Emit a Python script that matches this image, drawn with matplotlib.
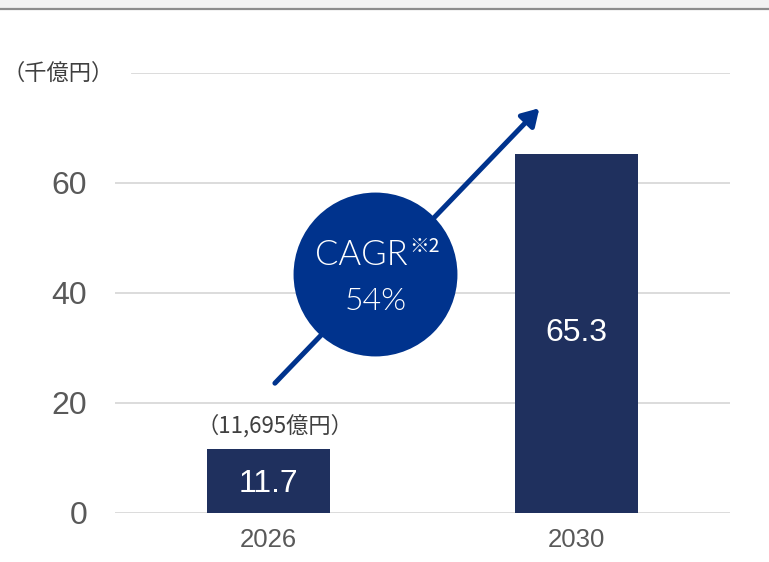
import matplotlib.pyplot as plt
from matplotlib.patches import Rectangle
from matplotlib.lines import Line2D

years = ["2026", "2030"]
values = [11.7, 65.3]
value_labels = ["11.7", "65.3"]
yticks = [0, 20, 40, 60]
note_2026 = "（11,695億円）"
unit_label = "（千億円）"
cagr_title = "CAGR"
cagr_note = "※2"
cagr_value = "54%"
arrow_start = (0.02, 23.6)
arrow_end = (0.88, 73.6)
circle_center = (0.347, 43.5)

bar_color = "#1F305E"
accent = "#00338D"
grid_color = "#D9D9D9"
text_gray = "#595959"
cjk = ["Noto Sans CJK JP", "DejaVu Sans"]

plt.rcParams["font.family"] = ["Liberation Sans", "Noto Sans CJK JP", "DejaVu Sans"]

fig = plt.figure(figsize=(7.69, 5.62), dpi=100)
ax = fig.add_axes([115 / 769, 49 / 562, 615 / 769, 440 / 562])

# top page strip
fig.patches.append(Rectangle((0, 1 - 8 / 562), 1, 8 / 562, transform=fig.transFigure,
                             facecolor="#F2F2F2", edgecolor="none", zorder=0))
fig.lines.append(Line2D([0, 1], [1 - 8.5 / 562] * 2, transform=fig.transFigure,
                        color="#8C8C8C", linewidth=1.6))

x = list(range(len(years)))
ax.set_xlim(-0.5, 1.5)
ax.set_ylim(0, 80)

for t in yticks:
    ax.axhline(t, color=grid_color, linewidth=1.3, zorder=0)
ax.axhline(80, xmin=17 / 615, color=grid_color, linewidth=1.3, zorder=0)

ax.bar(x, values, width=0.4, color=bar_color, zorder=2)
for xi, v, lab in zip(x, values, value_labels):
    ax.text(xi, v / 2 if v > 20 else v * 0.45, lab, ha="center", va="center",
            color="white", fontsize=23, zorder=3)

ax.text(x[0] + 0.02, 15.8, note_2026, ha="center", va="center", fontsize=16,
        color="#404040", family=cjk)

# growth arrow and CAGR badge
ax.annotate("", xy=arrow_end, xytext=arrow_start,
            arrowprops=dict(arrowstyle="-|>,head_length=1.0,head_width=0.6",
                            color=accent, linewidth=3.6, shrinkA=0, shrinkB=0),
            zorder=4)
ax.scatter([circle_center[0]], [circle_center[1]], s=118 ** 2, color=accent,
           zorder=5, linewidths=0)
ax.text(circle_center[0] - 0.045, circle_center[1] + 3.4, cagr_title, ha="center",
        va="center", color="white", fontsize=25, fontweight=300,
        family=["Lato", "DejaVu Sans"], zorder=6)
ax.text(circle_center[0] + 0.16, circle_center[1] + 5.0, cagr_note, ha="center",
        va="center", color="white", fontsize=14, family=cjk, zorder=6)
ax.text(circle_center[0], circle_center[1] - 5.0, cagr_value, ha="center",
        va="center", color="white", fontsize=23, fontweight=300,
        family=["Lato", "DejaVu Sans"], zorder=6)

ax.set_xticks(x)
ax.set_xticklabels(years, fontsize=18.5, color=text_gray)
ax.set_yticks(yticks)
ax.set_yticklabels([str(t) for t in yticks], fontsize=23, color=text_gray)
ax.tick_params(axis="both", length=0)
ax.tick_params(axis="y", pad=20)
ax.tick_params(axis="x", pad=11)
for s in ax.spines.values():
    s.set_visible(False)

fig.text(3 / 769, 1 - 73 / 562, unit_label, ha="left", va="center", fontsize=16,
         color="#404040", family=cjk)

fig.savefig("out.png", dpi=100)
